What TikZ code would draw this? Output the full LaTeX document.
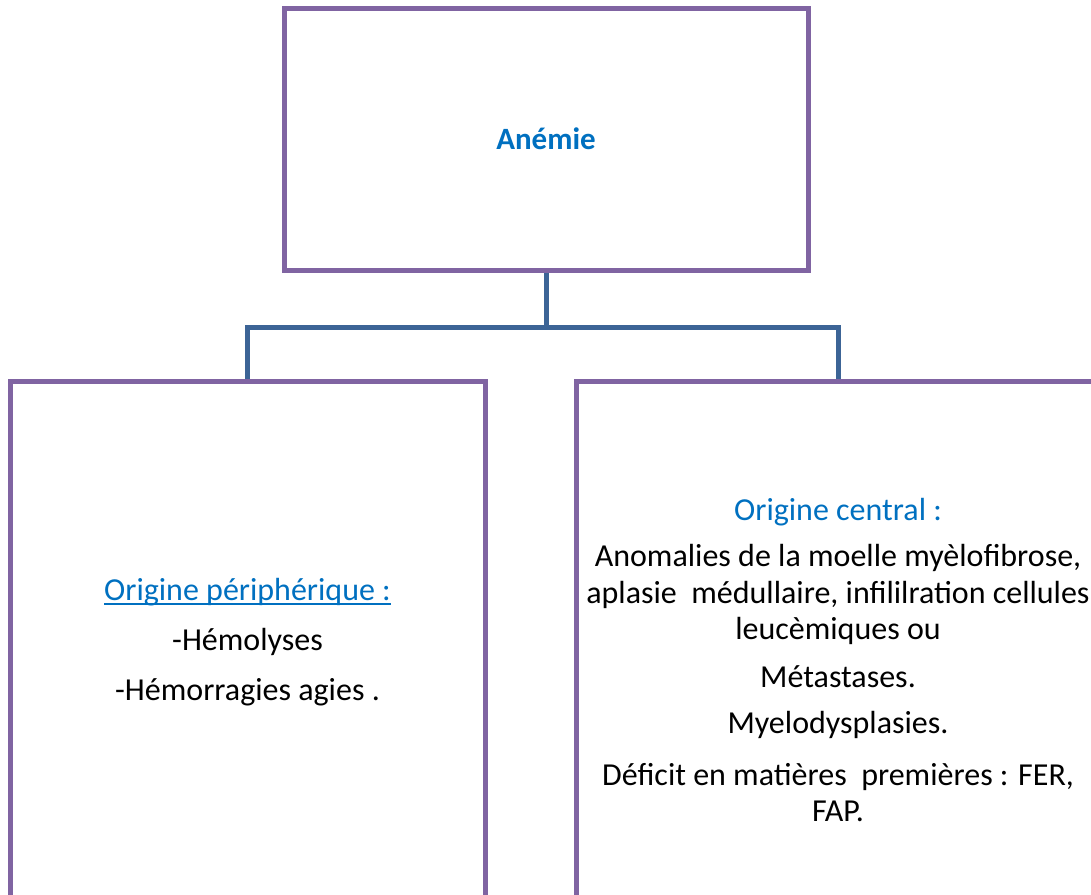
\documentclass[tikz,border=0pt]{standalone}
\usepackage{fontspec}
\setmainfont{Carlito}
\definecolor{boxpurple}{HTML}{8064A2}
\definecolor{linkblue}{HTML}{3C6496}
\definecolor{titleblue}{HTML}{0070C0}
\newcommand{\souligne}[1]{\setbox0=\hbox{#1}\rlap{\copy0}\raisebox{-4.5pt}{\rule{\wd0}{1.6pt}}}
\begin{document}
\begin{tikzpicture}[x=1pt,y=-1pt]
 \tikzstyle{b} = [draw=boxpurple, line width=5pt, inner sep=0pt]
    \tikzstyle{e} = [draw=linkblue, line width=5pt]
    \tikzstyle{t} = [align=center, inner sep=0pt, font=\fontsize{32}{36.5}\selectfont]
    %%
    \useasboundingbox (0,0) rectangle (1091,894);

        \node[b, minimum width=524pt, minimum height=262pt] (anemie) at (546,139) {};
        \node[b, minimum width=475pt, minimum height=520pt] (periph) at (247.5,641) {};
        \node[b, minimum width=524pt, minimum height=520pt] (central) at (838,641) {};
        \coordinate (j) at (546,327);

        \node[t, font=\fontsize{31}{36}\selectfont\bfseries, text=titleblue] (titre) at (anemie) {Anémie};
        \node[t] (gauche) at (247.5,642) {\textcolor{titleblue}{\souligne{Origine périphérique :}}\\[14pt]
          -Hémolyses\\[13pt]
          -Hémorragies agies .};
        \node[t] (droite) at (838,660) {\textcolor{titleblue}{Origine central :}\\[10pt]
          Anomalies de la moelle myèlofibrose,\\
          aplasie\ \ médullaire, infililration cellules\\
          leucèmiques ou\\[11pt]
          Métastases.\\[10pt]
          Myelodysplasies.\\[15pt]
          Déficit en matières\ \ premières : FER,\\
          FAP.};

        \draw[e] (anemie.south) -- (j);
        \draw[e] (j) -| (periph.north);
        \draw[e] (j) -| (central.north);

    \end{tikzpicture}
\end{document}
